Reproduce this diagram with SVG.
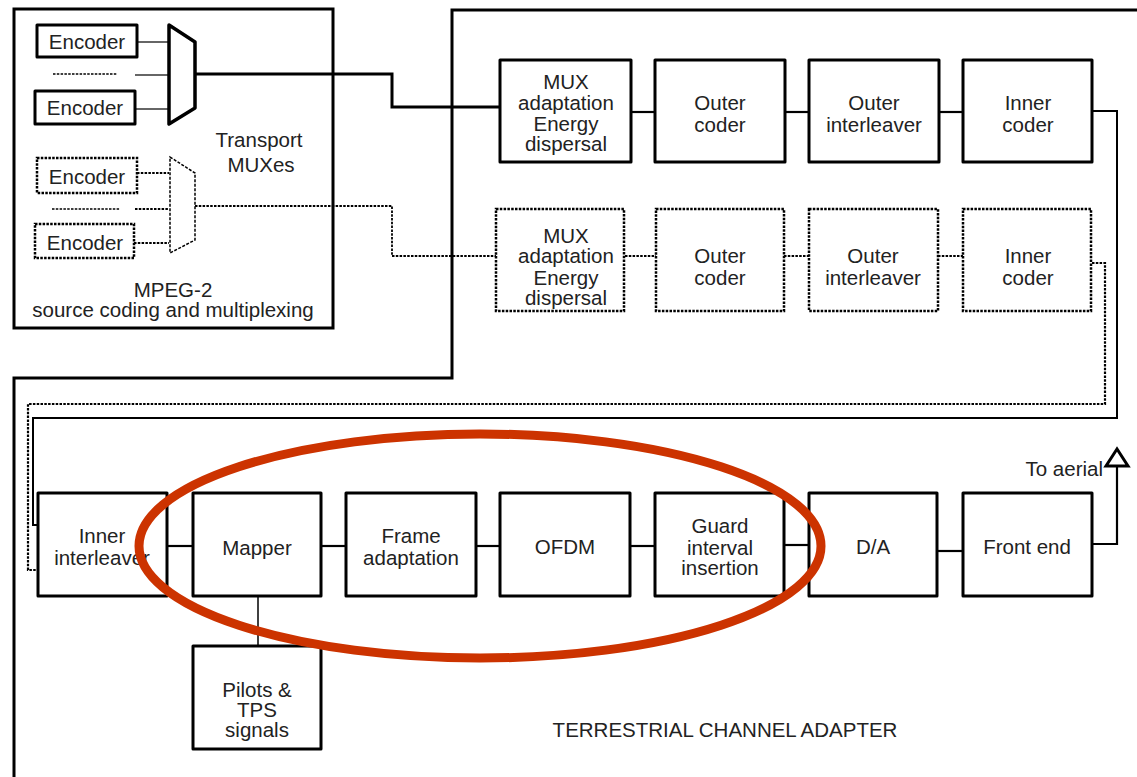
<svg xmlns="http://www.w3.org/2000/svg" width="1137" height="777" viewBox="0 0 1137 777">
<style>
.bx{fill:#fff;stroke:#000;stroke-width:3;stroke-linejoin:round}
.dbx{fill:#fff;stroke:#000;stroke-width:2.5;stroke-dasharray:2.5 1.3}
.ln{fill:none;stroke:#000;stroke-width:2.2}
.thin{fill:none;stroke:#333;stroke-width:1.5}
.dl{fill:none;stroke:#000;stroke-width:2.2;stroke-dasharray:2.5 1.3}
.fr{fill:none;stroke:#000;stroke-width:3}
text{font-family:"Liberation Sans",Arial,sans-serif;font-size:20.5px;fill:#222;text-anchor:middle}
</style>
<g id="frames">
<path class="fr" d="M1140,10 H452 V378 H14 V780"/>
<rect id="mpeg2" x="14" y="9" width="319" height="319" fill="none" stroke="#000" stroke-width="3"/>
<text x="173" y="297">MPEG-2</text>
<text x="173" y="317">source coding and multiplexing</text>
<text x="259" y="147">Transport</text>
<text x="261" y="172">MUXes</text>
<text x="725" y="737">TERRESTRIAL CHANNEL ADAPTER</text>
</g>
<g id="connectors">
<line class="thin" x1="137" y1="42" x2="169" y2="42"/>
<line class="thin" x1="135" y1="75" x2="169" y2="75"/>
<line class="thin" x1="135" y1="109" x2="169" y2="109"/>
<line class="dl" x1="53" y1="74" x2="117" y2="74" style="stroke-width:1.5"/>
<path class="ln" style="stroke-width:3" d="M195,74 H392 V107 H500"/>
<line class="dl" x1="137" y1="173" x2="169" y2="173"/>
<line class="dl" x1="135" y1="209" x2="169" y2="209"/>
<line class="dl" x1="52" y1="209" x2="120" y2="209" style="stroke-width:1.5"/>
<line class="dl" x1="134" y1="243" x2="169" y2="243"/>
<path class="dl" style="stroke-width:1.8" d="M195,206 H392 V256 H496"/>
<line class="ln" x1="632" y1="112" x2="655" y2="112"/>
<line class="ln" x1="785" y1="112" x2="809" y2="112"/>
<line class="ln" x1="939" y1="112" x2="963" y2="112"/>
<path class="ln" style="stroke-width:2" d="M1092,111 H1117 V418 H33 V525 H38"/>
<line class="dl" x1="625" y1="256" x2="656" y2="256"/>
<line class="dl" x1="784" y1="256" x2="809" y2="256"/>
<line class="dl" x1="938" y1="256" x2="963" y2="256"/>
<path class="dl" d="M1092,263 H1105 V404 H28 V570 H42"/>
<line class="ln" x1="167" y1="546" x2="193" y2="546"/>
<line class="ln" x1="321" y1="546" x2="346" y2="546"/>
<line class="ln" x1="476" y1="546" x2="500" y2="546"/>
<line class="ln" x1="630" y1="546" x2="655" y2="546"/>
<line class="ln" x1="784" y1="545" x2="809" y2="545"/>
<line class="ln" x1="937" y1="551" x2="963" y2="551"/>
<path class="ln" d="M1092,544 H1117 V466"/>
<line class="thin" style="stroke:#000" x1="258" y1="596" x2="258" y2="646"/>
</g>
<g id="antenna">
<polygon points="1117,449 1106,466 1128,466" fill="#fff" stroke="#000" stroke-width="3" stroke-linejoin="miter"/>
<text x="1103" y="476" style="text-anchor:end">To aerial</text>
</g>
<g id="encoder1"><rect class="bx" x="37" y="25" width="100" height="32"/><text x="87" y="49">Encoder</text></g>
<g id="encoder2"><rect class="bx" x="35" y="91" width="100" height="33"/><text x="85" y="115">Encoder</text></g>
<g id="encoder3"><rect class="dbx" x="37" y="158" width="100" height="35"/><text x="87" y="184">Encoder</text></g>
<g id="encoder4"><rect class="dbx" x="35" y="224" width="99" height="34"/><text x="85" y="250">Encoder</text></g>
<g id="mux1"><polygon points="169,25 195,42 195,108 169,124" fill="#fff" stroke="#000" stroke-width="3.5" stroke-linejoin="round"/></g>
<g id="mux2"><polygon points="170,157 195,173 195,240 170,253" fill="#fff" stroke="#000" stroke-width="1.5" stroke-dasharray="3 1.5"/></g>
<g id="muxadapt1"><rect class="bx" x="500" y="60" width="131" height="102"/><text x="566" y="89">MUX</text><text x="566" y="110">adaptation</text><text x="566" y="131">Energy</text><text x="566" y="151">dispersal</text></g>
<g id="outercoder1"><rect class="bx" x="655" y="60" width="130" height="102"/><text x="720" y="110">Outer</text><text x="720" y="132">coder</text></g>
<g id="outerinter1"><rect class="bx" x="809" y="60" width="130" height="102"/><text x="874" y="110">Outer</text><text x="874" y="132">interleaver</text></g>
<g id="innercoder1"><rect class="bx" x="963" y="60" width="129" height="102"/><text x="1028" y="110">Inner</text><text x="1028" y="132">coder</text></g>
<g id="muxadapt2"><rect class="dbx" x="496" y="209" width="128" height="102"/><text x="566" y="243">MUX</text><text x="566" y="263">adaptation</text><text x="566" y="285">Energy</text><text x="566" y="305">dispersal</text></g>
<g id="outercoder2"><rect class="dbx" x="656" y="209" width="128" height="102"/><text x="720" y="263">Outer</text><text x="720" y="285">coder</text></g>
<g id="outerinter2"><rect class="dbx" x="809" y="209" width="129" height="102"/><text x="873" y="263">Outer</text><text x="873" y="285">interleaver</text></g>
<g id="innercoder2"><rect class="dbx" x="963" y="209" width="128" height="102"/><text x="1028" y="263">Inner</text><text x="1028" y="285">coder</text></g>
<g id="innerinter"><rect class="bx" x="38" y="493" width="129" height="103"/><text x="102" y="543">Inner</text><text x="102" y="565">interleaver</text></g>
<g id="mapper"><rect class="bx" x="193" y="493" width="128" height="103"/><text x="257" y="555">Mapper</text></g>
<g id="frameadapt"><rect class="bx" x="346" y="493" width="130" height="103"/><text x="411" y="543">Frame</text><text x="411" y="565">adaptation</text></g>
<g id="ofdm"><rect class="bx" x="500" y="493" width="130" height="103"/><text x="565" y="554">OFDM</text></g>
<g id="guard"><rect class="bx" x="655" y="493" width="129" height="103"/><text x="720" y="533">Guard</text><text x="720" y="555">interval</text><text x="720" y="575">insertion</text></g>
<g id="da"><rect class="bx" x="809" y="493" width="128" height="103"/><text x="873" y="554">D/A</text></g>
<g id="frontend"><rect class="bx" x="963" y="493" width="129" height="103"/><text x="1027" y="554">Front end</text></g>
<g id="pilots"><rect class="bx" x="193" y="646" width="128" height="103"/><text x="257" y="697">Pilots &amp;</text><text x="257" y="717">TPS</text><text x="257" y="737">signals</text></g>
<g id="highlight"><ellipse cx="480" cy="546" rx="341" ry="112" fill="none" stroke="#CC3300" stroke-width="9"/></g>
</svg>
